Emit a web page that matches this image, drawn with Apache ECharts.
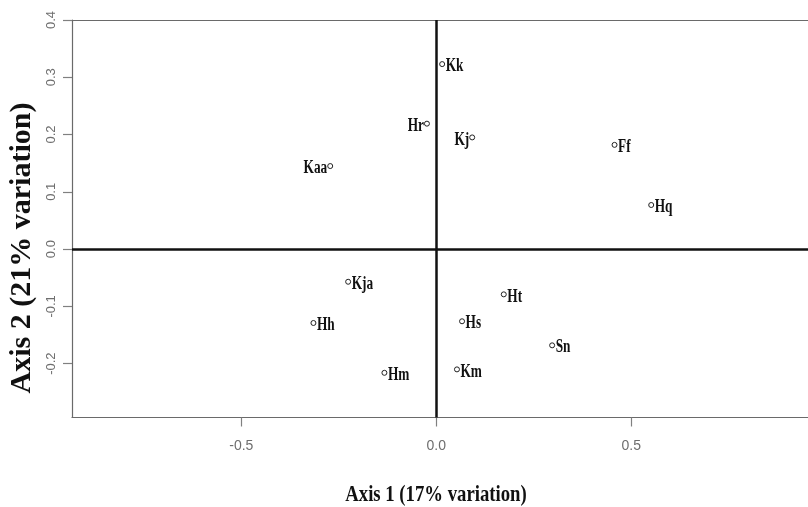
<!DOCTYPE html>
<html>
<head>
<meta charset="utf-8">
<script src="https://cdn.jsdelivr.net/npm/echarts@6/dist/echarts.min.js"></script>
<style>
html,body{margin:0;padding:0;background:#fff;}
#chart{width:808px;height:507px;}
</style>
</head>
<body>
<div id="chart"></div>
<script>
const names = ['Kk','Hr','Kj','Kaa','Ff','Hq','Kja','Hh','Hm','Ht','Hs','Sn','Km'];
const axis1 = [0.015,-0.024,0.092,-0.272,0.457,0.551,-0.226,-0.315,-0.133,0.173,0.066,0.297,0.053];
const axis2 = [0.323,0.219,0.195,0.145,0.182,0.077,-0.057,-0.129,-0.216,-0.079,-0.126,-0.168,-0.210];
const xTicks = [-0.5, 0, 0.5];
const yTicks = [-0.2, -0.1, 0, 0.1, 0.2, 0.3, 0.4];
const xTitle = 'Axis 1 (17% variation)';
const yTitle = 'Axis 2 (21% variation)';

const leftLabelled = new Set(['Hr','Kj','Kaa']);
const points = names.map((n, i) => [axis1[i], axis2[i], n]);

const chart = echarts.init(document.getElementById('chart'), null, {renderer: 'canvas'});
const axisGrey = '#6a6a6a';
const tickLabelStyle = {color: '#6e6e6e', fontFamily: '"Liberation Sans", Arial, sans-serif'};
chart.setOption({
  animation: false,
  backgroundColor: '#fff',
  grid: {left: 72, top: 20, right: 0, bottom: 89.5, show: false},
  xAxis: [{
    type: 'value', min: -0.934, max: 0.953,
    axisLine: {show: true, onZero: false, lineStyle: {color: axisGrey, width: 1.2}},
    axisTick: {show: true, length: 9, customValues: xTicks, lineStyle: {color: '#808080', width: 1.2}},
    axisLabel: Object.assign({customValues: xTicks, margin: 22, fontSize: 14, formatter: v => v.toFixed(1)}, tickLabelStyle),
    splitLine: {show: false}
  }, {
    type: 'value', position: 'top', min: -0.934, max: 0.953,
    axisLine: {show: true, onZero: false, lineStyle: {color: axisGrey, width: 1.2}},
    axisTick: {show: false}, axisLabel: {show: false}, splitLine: {show: false}
  }],
  yAxis: {
    type: 'value', min: -0.294, max: 0.4,
    axisLine: {show: true, onZero: false, lineStyle: {color: axisGrey, width: 1.2}},
    axisTick: {show: true, length: 9, customValues: yTicks, lineStyle: {color: '#808080', width: 1.2}},
    axisLabel: Object.assign({customValues: yTicks, rotate: 90, margin: 14, fontSize: 13, formatter: v => v.toFixed(1)}, tickLabelStyle),
    splitLine: {show: false}
  },
  graphic: [
    {type: 'text', x: 436, y: 495, scaleX: 0.78, style: {text: xTitle, font: 'bold 24px "Liberation Serif", "Times New Roman", serif', fill: '#111', align: 'center', verticalAlign: 'middle'}},
    {type: 'text', x: 22, y: 248, rotation: Math.PI / 2, style: {text: yTitle, font: 'bold 30px "Liberation Serif", "Times New Roman", serif', fill: '#111', align: 'center', verticalAlign: 'middle'}}
  ],
  series: [
    {
      type: 'scatter',
      data: points,
      symbol: 'circle', symbolSize: 5,
      itemStyle: {color: '#fff', borderColor: '#222', borderWidth: 1, opacity: 1},
      z: 5,
      markLine: {
        silent: true, symbol: ['none','none'], label: {show: false},
        lineStyle: {color: '#111', width: 2.5, type: 'solid'},
        data: [{xAxis: 0}, {yAxis: 0}]
      }
    },
    {
      type: 'custom',
      data: points,
      z: 6,
      renderItem: function (params, api) {
        const p = api.coord([api.value(0), api.value(1)]);
        const name = names[params.dataIndex];
        const left = leftLabelled.has(name);
        return {
          type: 'text',
          x: p[0] + (left ? -3 : 3.5),
          y: p[1] + 2.5,
          scaleX: 0.74,
          style: {text: name, font: 'bold 18px "Liberation Serif", "Times New Roman", serif', fill: '#111', align: left ? 'right' : 'left', verticalAlign: 'middle'}
        };
      }
    }
  ]
});
</script>
</body>
</html>
